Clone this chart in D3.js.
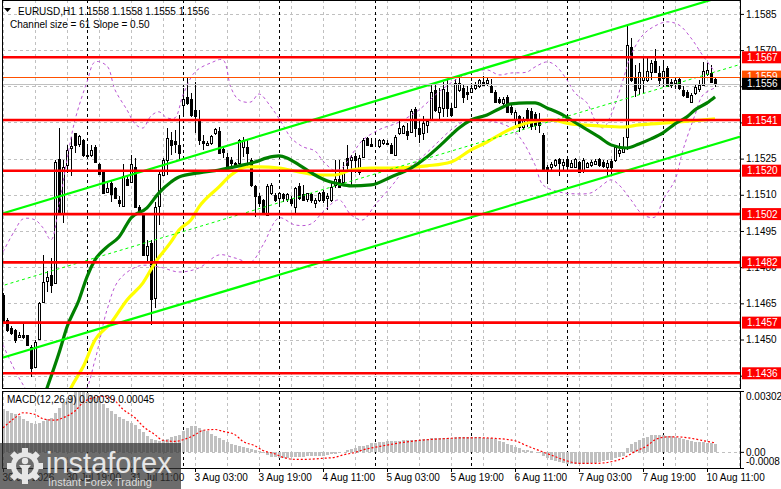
<!DOCTYPE html>
<html>
<head>
<meta charset="utf-8">
<script src="https://cdn.jsdelivr.net/npm/d3@7"></script>
<style>
  body { margin: 0; background: #fff; }
  svg { display: block; }
  text { font-family: "Liberation Sans", Arial, sans-serif; }
</style>
</head>
<body>
<script>
// EURUSD H1 candles, one per hour from 30 Jul 03:00 to 10 Aug 13:00
const openP = [
1.14685,1.14581,1.14549,1.14540,1.14512,1.14519,1.14518,1.14471,1.14388,1.14501,
1.14657,1.14744,1.14768,1.14736,1.15249,1.15026,1.15224,1.15293,1.15355,1.15311,
1.15328,1.15265,1.15263,1.15297,1.15228,1.15196,1.15113,1.15148,1.15130,1.15079,
1.15055,1.15166,1.15155,1.15217,1.15051,1.15017,1.14851,1.14902,1.14671,1.15055,
1.15182,1.15245,1.15328,1.15321,1.15307,1.15473,1.15507,1.15496,1.15452,1.15413,
1.15321,1.15307,1.15314,1.15355,1.15365,1.15289,1.15258,1.15245,1.15231,1.15231,
1.15300,1.15297,1.15245,1.15137,1.15093,1.15079,1.15017,1.15106,1.15100,1.15086,
1.15102,1.15082,1.15082,1.15051,1.15137,1.15104,1.15082,1.15102,1.15068,1.15079,
1.15113,1.15086,1.15079,1.15141,1.15164,1.15155,1.15252,1.15245,1.15261,1.15196,
1.15256,1.15334,1.15311,1.15307,1.15303,1.15314,1.15316,1.15307,1.15265,1.15355,
1.15358,1.15366,1.15362,1.15455,1.15376,1.15358,1.15390,1.15410,1.15535,1.15445,
1.15459,1.15528,1.15459,1.15466,1.15535,1.15542,1.15528,1.15528,1.15542,1.15549,
1.15569,1.15562,1.15549,1.15528,1.15496,1.15482,1.15504,1.15466,1.15410,1.15427,
1.15380,1.15452,1.15449,1.15435,1.15410,1.15348,1.15217,1.15217,1.15224,1.15247,
1.15224,1.15247,1.15217,1.15217,1.15238,1.15203,1.15217,1.15224,1.15228,1.15247,
1.15238,1.15217,1.15240,1.15245,1.15272,1.15279,1.15341,1.15714,1.15583,1.15542,
1.15576,1.15576,1.15611,1.15655,1.15607,1.15583,1.15625,1.15569,1.15562,1.15579,
1.15535,1.15528,1.15486,1.15521,1.15538,1.15556,1.15601,1.15607,1.15580];
const highP = [
1.14692,1.14588,1.14556,1.14543,1.14533,1.14567,1.14520,1.14478,1.14498,1.14657,
1.14851,1.14786,1.14837,1.15245,1.15376,1.15245,1.15307,1.15341,1.15358,1.15348,
1.15330,1.15297,1.15307,1.15307,1.15231,1.15203,1.15148,1.15162,1.15134,1.15093,
1.15228,1.15182,1.15265,1.15252,1.15058,1.15021,1.14913,1.14913,1.15072,1.15196,
1.15252,1.15376,1.15362,1.15369,1.15431,1.15542,1.15583,1.15521,1.15569,1.15452,
1.15348,1.15321,1.15348,1.15376,1.15383,1.15300,1.15272,1.15258,1.15238,1.15330,
1.15341,1.15328,1.15252,1.15141,1.15106,1.15082,1.15145,1.15148,1.15106,1.15113,
1.15106,1.15106,1.15093,1.15134,1.15148,1.15141,1.15109,1.15106,1.15086,1.15113,
1.15120,1.15106,1.15155,1.15245,1.15245,1.15238,1.15307,1.15265,1.15275,1.15265,
1.15334,1.15341,1.15334,1.15321,1.15330,1.15330,1.15328,1.15314,1.15348,1.15404,
1.15390,1.15399,1.15455,1.15466,1.15410,1.15427,1.15410,1.15562,1.15562,1.15542,
1.15569,1.15576,1.15480,1.15579,1.15597,1.15556,1.15549,1.15562,1.15569,1.15579,
1.15593,1.15590,1.15579,1.15535,1.15504,1.15507,1.15514,1.15473,1.15452,1.15431,
1.15424,1.15459,1.15459,1.15445,1.15438,1.15355,1.15224,1.15238,1.15247,1.15252,
1.15247,1.15258,1.15245,1.15252,1.15240,1.15252,1.15238,1.15245,1.15247,1.15252,
1.15245,1.15245,1.15247,1.15307,1.15314,1.15341,1.15804,1.15749,1.15638,1.15645,
1.15673,1.15666,1.15659,1.15703,1.15632,1.15645,1.15632,1.15579,1.15590,1.15590,
1.15549,1.15535,1.15521,1.15556,1.15576,1.15652,1.15648,1.15638,1.15584];
const lowP = [
1.14565,1.14533,1.14519,1.14485,1.14505,1.14501,1.14473,1.14346,1.14381,1.14498,
1.14650,1.14699,1.14692,1.14733,1.15023,1.14985,1.15189,1.15176,1.15272,1.15300,
1.15258,1.15258,1.15258,1.15231,1.15182,1.15104,1.15106,1.15072,1.15082,1.15048,
1.15051,1.15137,1.15148,1.15044,1.15017,1.14847,1.14816,1.14561,1.14630,1.14975,
1.15176,1.15182,1.15265,1.15272,1.15245,1.15431,1.15473,1.15424,1.15355,1.15307,
1.15286,1.15303,1.15307,1.15348,1.15272,1.15252,1.15210,1.15220,1.15220,1.15217,
1.15258,1.15217,1.15134,1.15010,1.15051,1.15017,1.15012,1.15100,1.15072,1.15051,
1.15072,1.15072,1.15054,1.15026,1.15079,1.15075,1.15072,1.15065,1.15044,1.15072,
1.15068,1.15037,1.15072,1.15127,1.15127,1.15145,1.15203,1.15134,1.15189,1.15182,
1.15252,1.15303,1.15297,1.15300,1.15293,1.15307,1.15307,1.15269,1.15263,1.15348,
1.15352,1.15328,1.15358,1.15341,1.15314,1.15328,1.15355,1.15404,1.15445,1.15404,
1.15424,1.15424,1.15424,1.15459,1.15528,1.15480,1.15493,1.15521,1.15535,1.15542,
1.15549,1.15549,1.15524,1.15480,1.15477,1.15466,1.15441,1.15431,1.15390,1.15362,
1.15369,1.15383,1.15369,1.15369,1.15355,1.15196,1.15145,1.15196,1.15217,1.15176,
1.15200,1.15210,1.15210,1.15210,1.15189,1.15192,1.15210,1.15217,1.15224,1.15217,
1.15213,1.15178,1.15182,1.15238,1.15258,1.15272,1.15286,1.15569,1.15507,1.15514,
1.15521,1.15569,1.15576,1.15604,1.15551,1.15549,1.15549,1.15542,1.15538,1.15535,
1.15507,1.15500,1.15482,1.15514,1.15528,1.15551,1.15593,1.15562,1.15548];
const closeP = [
1.14567,1.14540,1.14529,1.14496,1.14518,1.14509,1.14478,1.14381,1.14491,1.14650,
1.14737,1.14761,1.14726,1.15238,1.15030,1.15217,1.15286,1.15303,1.15307,1.15344,
1.15263,1.15261,1.15286,1.15234,1.15187,1.15106,1.15130,1.15104,1.15086,1.15065,
1.15178,1.15141,1.15227,1.15051,1.15021,1.14851,1.14888,1.14667,1.15051,1.15185,
1.15245,1.15334,1.15307,1.15311,1.15275,1.15496,1.15480,1.15431,1.15427,1.15328,
1.15314,1.15314,1.15344,1.15372,1.15275,1.15279,1.15220,1.15231,1.15224,1.15328,
1.15328,1.15272,1.15141,1.15093,1.15065,1.15021,1.15137,1.15141,1.15079,1.15109,
1.15086,1.15102,1.15065,1.15127,1.15086,1.15079,1.15106,1.15079,1.15079,1.15106,
1.15079,1.15093,1.15134,1.15164,1.15134,1.15196,1.15224,1.15258,1.15245,1.15252,
1.15328,1.15307,1.15303,1.15306,1.15328,1.15328,1.15311,1.15272,1.15341,1.15376,
1.15386,1.15348,1.15449,1.15376,1.15352,1.15397,1.15408,1.15528,1.15452,1.15466,
1.15538,1.15459,1.15431,1.15562,1.15562,1.15507,1.15518,1.15542,1.15556,1.15576,
1.15556,1.15574,1.15528,1.15486,1.15486,1.15496,1.15445,1.15445,1.15445,1.15380,
1.15413,1.15410,1.15386,1.15390,1.15390,1.15203,1.15203,1.15228,1.15245,1.15231,
1.15238,1.15220,1.15231,1.15247,1.15196,1.15245,1.15231,1.15238,1.15240,1.15224,
1.15220,1.15231,1.15217,1.15300,1.15286,1.15300,1.15721,1.15576,1.15535,1.15611,
1.15590,1.15615,1.15648,1.15611,1.15576,1.15614,1.15551,1.15556,1.15576,1.15542,
1.15514,1.15507,1.15514,1.15546,1.15556,1.15615,1.15618,1.15569,1.15560];

// moving averages at sample bars
const maGreenBar = [9,11,14,16,19,21,23,26,29,32,36,39,42,44,49,54,59,63,66,69,71,74,78,81,84,87,92,97,102,106,110,114,117,121,124,127,131,133,136,139,144,149,152,156,159,162,165,168,171,173,176,178];
const maGreenVal = [1.14208,1.14299,1.14444,1.14552,1.14664,1.14760,1.14830,1.14884,1.14925,1.15004,1.15046,1.15108,1.15153,1.15174,1.15191,1.15203,1.15220,1.15236,1.15253,1.15261,1.15253,1.15224,1.15182,1.15158,1.15145,1.15137,1.15141,1.15174,1.15211,1.15257,1.15315,1.15377,1.15410,1.15431,1.15456,1.15477,1.15481,1.15481,1.15460,1.15439,1.15390,1.15340,1.15307,1.15294,1.15311,1.15332,1.15357,1.15394,1.15423,1.15452,1.15481,1.15506];
const maYellowBar = [14,17,20,23,27,31,35,38,42,44,47,49,54,57,61,64,69,74,79,83,87,92,97,106,112,117,121,125,128,132,137,142,149,155,159,166,172,178];
const maYellowVal = [1.14167,1.14299,1.14386,1.14498,1.14569,1.14664,1.14735,1.14818,1.14905,1.14954,1.14996,1.15050,1.15133,1.15182,1.15216,1.15216,1.15211,1.15195,1.15182,1.15182,1.15203,1.15211,1.15211,1.15220,1.15236,1.15286,1.15319,1.15357,1.15381,1.15402,1.15410,1.15394,1.15386,1.15381,1.15390,1.15398,1.15406,1.15415];

// bollinger envelope
const bbUpperBar = [0,3,5,8,10,12,14,16,18,21,23,26,28,31,33,35,37,39,41,43,45,48,52,55,57,59,62,64,67,70,72,75,78,80,83,85,88,90,93,95,98,100,104,109,114,117,121,124,127,131,133,136,138,141,143,146,148,150,152,155,157,160,163,166,169,172,175,178];
const bbUpperVal = [1.14863,1.14954,1.15000,1.14996,1.14963,1.14913,1.15058,1.15245,1.15410,1.15568,1.15651,1.15634,1.15535,1.15452,1.15394,1.15377,1.15427,1.15444,1.15419,1.15419,1.15514,1.15609,1.15647,1.15659,1.15543,1.15493,1.15485,1.15518,1.15464,1.15390,1.15336,1.15299,1.15282,1.15240,1.15200,1.15215,1.15286,1.15328,1.15361,1.15377,1.15394,1.15410,1.15452,1.15527,1.15585,1.15605,1.15618,1.15597,1.15605,1.15609,1.15630,1.15651,1.15638,1.15576,1.15522,1.15481,1.15410,1.15377,1.15431,1.15576,1.15680,1.15763,1.15800,1.15817,1.15804,1.15750,1.15676,1.15609];
const bbLowerBar = [0,4,8,14,20,23,26,29,34,39,44,49,54,58,62,65,69,73,77,80,84,87,90,93,97,100,104,108,112,115,119,123,127,130,133,135,139,143,147,149,152,154,157,160,163,165,168,170,173,175,178];
const bbLowerVal = [1.14478,1.14341,1.14250,1.14208,1.14270,1.14415,1.14623,1.14747,1.14805,1.14801,1.14780,1.14797,1.14851,1.14838,1.14822,1.14892,1.15004,1.14975,1.14979,1.15029,1.15079,1.15017,1.14996,1.15058,1.15133,1.15195,1.15245,1.15307,1.15369,1.15402,1.15410,1.15402,1.15377,1.15319,1.15224,1.15141,1.15112,1.15104,1.15108,1.15129,1.15162,1.15141,1.15079,1.15017,1.15008,1.15079,1.15162,1.15286,1.15431,1.15514,1.15543];

// regression channel end points
const chanBar = [-1, 185];
const chanUpper = [1.15018, 1.15948];
const chanMid = [1.14719, 1.15644];
const chanLower = [1.14420, 1.15345];

// horizontal levels
const levels = [1.1567, 1.1541, 1.1520, 1.1502, 1.1482, 1.1457, 1.1436];
const orangeLevel = 1.1559;
const bidPrice = 1.1556;

// MACD(12,26,9)
const macdHist = [
0.00211,0.00203,0.00194,0.00186,0.00178,0.00164,0.00152,0.00141,0.00136,0.00144,
0.00152,0.00161,0.00169,0.00194,0.00219,0.00245,0.00265,0.00281,0.00295,0.00298,
0.00295,0.00290,0.00281,0.00265,0.00253,0.00236,0.00219,0.00203,0.00186,0.00174,
0.00161,0.00152,0.00144,0.00131,0.00114,0.00097,0.00077,0.00064,0.00057,0.00052,
0.00057,0.00064,0.00074,0.00080,0.00085,0.00102,0.00119,0.00127,0.00127,0.00119,
0.00111,0.00102,0.00090,0.00080,0.00069,0.00057,0.00047,0.00040,0.00035,0.00030,
0.00023,0.00018,0.00013,0.00007,0.00002,-0.00007,-0.00015,-0.00023,-0.00027,-0.00032,
-0.00032,-0.00028,-0.00027,-0.00025,-0.00024,-0.00023,-0.00022,-0.00022,-0.00021,-0.00020,
-0.00018,-0.00016,-0.00013,-0.00010,-0.00007,0.00000,0.00007,0.00012,0.00018,0.00027,
0.00031,0.00035,0.00044,0.00046,0.00049,0.00050,0.00052,0.00052,0.00055,0.00056,
0.00057,0.00057,0.00060,0.00060,0.00060,0.00062,0.00063,0.00067,0.00067,0.00067,
0.00069,0.00070,0.00069,0.00072,0.00074,0.00073,0.00072,0.00072,0.00072,0.00072,
0.00071,0.00071,0.00069,0.00062,0.00055,0.00049,0.00040,0.00032,0.00025,0.00017,
0.00010,0.00007,0.00003,0.00001,-0.00005,-0.00018,-0.00028,-0.00040,-0.00046,-0.00051,
-0.00055,-0.00060,-0.00061,-0.00061,-0.00061,-0.00059,-0.00058,-0.00056,-0.00053,-0.00050,
-0.00046,-0.00042,-0.00038,-0.00030,-0.00024,-0.00020,0.00018,0.00038,0.00048,0.00058,
0.00068,0.00076,0.00082,0.00086,0.00085,0.00085,0.00081,0.00077,0.00074,0.00069,
0.00064,0.00059,0.00054,0.00051,0.00048,0.00047,0.00046,0.00043,0.00039];
const signalBar = [0,3,5,8,10,13,15,18,20,23,25,28,30,33,35,38,40,43,45,48,50,53,55,58,60,63,65,68,70,73,75,78,80,83,85,88,90,93,95,99,104,109,114,119,123,128,131,134,138,141,144,148,152,155,158,161,163,166,169,173,176,178];
const signalVal = [0.00119,0.00169,0.00194,0.00186,0.00164,0.00157,0.00169,0.00203,0.00245,0.00270,0.00275,0.00253,0.00211,0.00169,0.00127,0.00085,0.00057,0.00052,0.00060,0.00085,0.00107,0.00111,0.00102,0.00085,0.00052,0.00030,0.00007,-0.00010,-0.00027,-0.00037,-0.00037,-0.00035,-0.00032,-0.00027,-0.00015,-0.00003,0.00010,0.00023,0.00030,0.00044,0.00057,0.00064,0.00069,0.00070,0.00067,0.00055,0.00030,0.00007,-0.00023,-0.00045,-0.00057,-0.00057,-0.00049,-0.00032,0.00002,0.00030,0.00060,0.00074,0.00074,0.00064,0.00052,0.00045];

// axes
const priceTicks = [1.1585, 1.1570, 1.1555, 1.1540, 1.1525, 1.1510, 1.1495, 1.1480, 1.1465, 1.1450, 1.1435];
const macdTicks = [0.00302, 0, -0.0008];
const macdTickLabels = ["0.00302", "0.00", "-0.0008"];
const timeBars = [0, 16, 32, 48, 64, 80, 96, 112, 128, 144, 160, 176];
const timeLabels = ["30 Jul 2026", "30 Jul 19:00", "31 Jul 11:00", "3 Aug 03:00", "3 Aug 19:00", "4 Aug 11:00",
                    "5 Aug 03:00", "5 Aug 19:00", "6 Aug 11:00", "7 Aug 03:00", "7 Aug 19:00", "10 Aug 11:00"];
const dayBars = [21, 45, 69, 93, 117, 141, 165];

const W = 781, H = 489;
const left = 2, right = 741, mainBottom = 388, macdTop = 391, macdBottom = 468;

const svg = d3.select("body").append("svg").attr("width", W).attr("height", H);

const x = d3.scaleLinear().domain([0, 178]).range([3, 715]);
const y = d3.scaleLinear().domain([1.14299, 1.159076]).range([mainBottom, 0]);
const m = d3.scaleLinear().domain([-0.0008, 0.00302]).range([macdBottom, macdTop]);

const defs = svg.append("defs");
defs.append("clipPath").attr("id", "clipMain").append("rect")
    .attr("x", left).attr("y", 0).attr("width", right - left).attr("height", mainBottom);
defs.append("clipPath").attr("id", "clipMacd").append("rect")
    .attr("x", left).attr("y", macdTop).attr("width", right - left).attr("height", macdBottom - macdTop);

const main = svg.append("g").attr("clip-path", "url(#clipMain)");
const macd = svg.append("g").attr("clip-path", "url(#clipMacd)");

// grid
const gridBars = d3.range(0, 185, 8);
[[main, 0, mainBottom], [macd, macdTop, macdBottom]].forEach(([g, y1, y2]) => {
    g.append("g").selectAll("line").data(gridBars).enter().append("line")
        .attr("x1", d => Math.round(x(d)) + 0.5).attr("x2", d => Math.round(x(d)) + 0.5)
        .attr("y1", y1).attr("y2", y2)
        .attr("stroke", "#c0c0c0").attr("stroke-dasharray", "3,3");
});
main.append("g").selectAll("line").data(priceTicks).enter().append("line")
    .attr("x1", left).attr("x2", right)
    .attr("y1", d => Math.round(y(d)) + 0.5).attr("y2", d => Math.round(y(d)) + 0.5)
    .attr("stroke", "#c0c0c0").attr("stroke-dasharray", "3,3");
macd.append("line")
    .attr("x1", left).attr("x2", right)
    .attr("y1", Math.round(m(0)) + 0.5).attr("y2", Math.round(m(0)) + 0.5)
    .attr("stroke", "#c0c0c0").attr("stroke-dasharray", "3,3");

// day separators
[[main, 0, mainBottom], [macd, macdTop, macdBottom]].forEach(([g, y1, y2]) => {
    g.append("g").selectAll("line").data(dayBars).enter().append("line")
        .attr("x1", d => Math.round(x(d)) + 0.5).attr("x2", d => Math.round(x(d)) + 0.5)
        .attr("y1", y1).attr("y2", y2)
        .attr("stroke", "#000").attr("stroke-dasharray", "3,3");
});

// candles
const bars = d3.range(openP.length);
const candles = main.append("g").selectAll("g").data(bars).enter().append("g");
candles.append("line")
    .attr("x1", i => Math.round(x(i)) + 0.5).attr("x2", i => Math.round(x(i)) + 0.5)
    .attr("y1", i => y(highP[i])).attr("y2", i => y(lowP[i]))
    .attr("stroke", "#000").attr("shape-rendering", "crispEdges");
candles.append("rect")
    .attr("x", i => Math.round(x(i)) - 0.5)
    .attr("y", i => Math.round(y(Math.max(openP[i], closeP[i]))) + 0.5)
    .attr("width", 2)
    .attr("height", i => Math.max(0, Math.round(y(Math.min(openP[i], closeP[i]))) - Math.round(y(Math.max(openP[i], closeP[i])))))
    .attr("fill", i => closeP[i] >= openP[i] ? "#fff" : "#000")
    .attr("stroke", "#000").attr("shape-rendering", "crispEdges");

// indicator lines
function pts(b, v) { return b.map((d, k) => [d, v[k]]); }
const priceLine = d3.line().x(d => x(d[0])).y(d => y(d[1]));
main.append("path").datum(pts(bbUpperBar, bbUpperVal))
    .attr("d", priceLine.curve(d3.curveCatmullRom.alpha(0.5)))
    .attr("fill", "none").attr("stroke", "#ba55d3").attr("stroke-dasharray", "3,3");
main.append("path").datum(pts(bbLowerBar, bbLowerVal))
    .attr("d", priceLine.curve(d3.curveCatmullRom.alpha(0.5)))
    .attr("fill", "none").attr("stroke", "#ba55d3").attr("stroke-dasharray", "3,3");
main.append("path").datum(pts(maYellowBar, maYellowVal))
    .attr("d", priceLine.curve(d3.curveMonotoneX))
    .attr("fill", "none").attr("stroke", "#ffff00").attr("stroke-width", 3.2);
main.append("path").datum(pts(maGreenBar, maGreenVal))
    .attr("d", priceLine.curve(d3.curveMonotoneX))
    .attr("fill", "none").attr("stroke", "#008000").attr("stroke-width", 3.2);

// channel
const straight = d3.line().x(d => x(d[0])).y(d => y(d[1]));
main.append("path").datum(pts(chanBar, chanUpper)).attr("d", straight)
    .attr("fill", "none").attr("stroke", "#00ff00").attr("stroke-width", 2.2);
main.append("path").datum(pts(chanBar, chanLower)).attr("d", straight)
    .attr("fill", "none").attr("stroke", "#00ff00").attr("stroke-width", 2.2);
main.append("path").datum(pts(chanBar, chanMid)).attr("d", straight)
    .attr("fill", "none").attr("stroke", "#00ff00").attr("stroke-dasharray", "3,3");

// levels
main.append("line").attr("x1", left).attr("x2", right)
    .attr("y1", Math.round(y(bidPrice)) + 0.5).attr("y2", Math.round(y(bidPrice)) + 0.5)
    .attr("stroke", "#c0c0c0");
main.append("line").attr("x1", left).attr("x2", right)
    .attr("y1", Math.round(y(orangeLevel)) + 0.5).attr("y2", Math.round(y(orangeLevel)) + 0.5)
    .attr("stroke", "#ff5000");
main.append("g").selectAll("line").data(levels).enter().append("line")
    .attr("x1", left).attr("x2", right)
    .attr("y1", d => y(d)).attr("y2", d => y(d))
    .attr("stroke", "#ff0000").attr("stroke-width", 2.6);

// MACD histogram + signal
macd.append("g").selectAll("rect").data(bars).enter().append("rect")
    .attr("x", i => Math.round(x(i)) - 1)
    .attr("width", 3)
    .attr("y", i => Math.min(m(0), m(macdHist[i])))
    .attr("height", i => Math.abs(m(macdHist[i]) - m(0)))
    .attr("fill", "#c0c0c0").attr("shape-rendering", "crispEdges");
macd.append("path").datum(pts(signalBar, signalVal))
    .attr("d", d3.line().x(d => x(d[0])).y(d => m(d[1])).curve(d3.curveMonotoneX))
    .attr("fill", "none").attr("stroke", "#ff0000").attr("stroke-width", 1.2).attr("stroke-dasharray", "2,2");

// frames
svg.append("rect").attr("x", left + 0.5).attr("y", 0.5).attr("width", right - left - 1).attr("height", mainBottom)
    .attr("fill", "none").attr("stroke", "#000");
svg.append("rect").attr("x", left + 0.5).attr("y", macdTop + 0.5).attr("width", right - left - 1).attr("height", macdBottom - macdTop)
    .attr("fill", "none").attr("stroke", "#000");

// price axis
const yAxis = svg.append("g").attr("transform", `translate(${right},0)`)
    .call(d3.axisRight(y).tickValues(priceTicks).tickSize(3).tickPadding(2).tickFormat(d3.format(".4f")));
yAxis.select(".domain").remove();
yAxis.selectAll("text").attr("font-size", 10).attr("fill", "#000").attr("font-family", "Liberation Sans, Arial");

// level labels
function priceTag(p, bg, fg) {
    const g = svg.append("g").attr("transform", `translate(${right + 1},${y(p)})`);
    g.append("rect").attr("x", 0).attr("y", -6).attr("width", W - right).attr("height", 12).attr("fill", bg);
    g.append("text").attr("x", 5).attr("y", 3.6).attr("font-size", 10).attr("fill", fg).text(d3.format(".4f")(p));
}
levels.forEach(p => priceTag(p, "#ff0000", "#fff"));
priceTag(orangeLevel, "#ff5000", "#fff");
priceTag(bidPrice, "#000", "#fff");

// MACD axis
const mAxis = svg.append("g").attr("transform", `translate(${right},0)`)
    .call(d3.axisRight(m).tickValues(macdTicks).tickSize(3).tickPadding(2).tickFormat((d, i) => macdTickLabels[i]));
mAxis.select(".domain").remove();
mAxis.selectAll("text").attr("font-size", 10).attr("fill", "#000").attr("font-family", "Liberation Sans, Arial");
mAxis.selectAll(".tick").filter(d => d === 0.00302).select("text").attr("dy", "0.85em");
mAxis.selectAll(".tick").filter(d => d === -0.0008).select("text").attr("dy", "-0.35em");

// time axis
const xAxis = svg.append("g").attr("transform", `translate(0,${macdBottom})`)
    .call(d3.axisBottom(x).tickValues(timeBars).tickSize(4).tickFormat((d, i) => timeLabels[i]));
xAxis.select(".domain").remove();
xAxis.selectAll("text").attr("font-size", 10).attr("fill", "#000").attr("font-family", "Liberation Sans, Arial")
    .attr("text-anchor", "start").attr("x", -1).attr("y", 6);

// titles
svg.append("path").attr("d", "M4,8 L11,8 L7.5,12 Z").attr("fill", "#000");
svg.append("text").attr("x", 18).attr("y", 14.5).attr("font-size", 10)
    .text("EURUSD,H1  1.1558 1.1558 1.1555 1.1556");
svg.append("text").attr("x", 10).attr("y", 27.5).attr("font-size", 10)
    .text("Channel size = 61 Slope = 0.50");
svg.append("text").attr("x", 7).attr("y", 403).attr("font-size", 10)
    .text("MACD(12,26,9) 0.00039 0.00045");

// watermark
const logo = svg.append("g");
logo.append("rect").attr("x", 0).attr("y", 443).attr("width", 181).attr("height", 46)
    .attr("fill", "#333").attr("opacity", 0.72);
const gear = logo.append("g").attr("transform", "translate(25,466)");
gear.append("path").attr("d", d3.arc()({innerRadius: 9, outerRadius: 14, startAngle: 0, endAngle: 2 * Math.PI}))
    .attr("fill", "#e6e6e6");
gear.selectAll(".tooth").data(d3.range(8)).enter().append("rect")
    .attr("x", -3).attr("y", -18).attr("width", 6).attr("height", 6)
    .attr("transform", d => `rotate(${d * 45})`).attr("fill", "#e6e6e6");
gear.append("circle").attr("cx", 0).attr("cy", -5).attr("r", 3.2).attr("fill", "#e6e6e6");
gear.append("path").attr("d", "M-6,-1 L6,-1 L3,3 L3,12 L-3,12 L-3,3 Z").attr("fill", "#e6e6e6");
logo.append("text").attr("x", 46).attr("y", 473).attr("font-size", 29)
    .attr("font-family", "Open Sans, Liberation Sans, sans-serif").attr("font-weight", 300)
    .attr("fill", "#e6e6e6").text("instaforex");
logo.append("text").attr("x", 48).attr("y", 486).attr("font-size", 11)
    .attr("fill", "#dcdcdc").text("Instant Forex Trading");
</script>
</body>
</html>
